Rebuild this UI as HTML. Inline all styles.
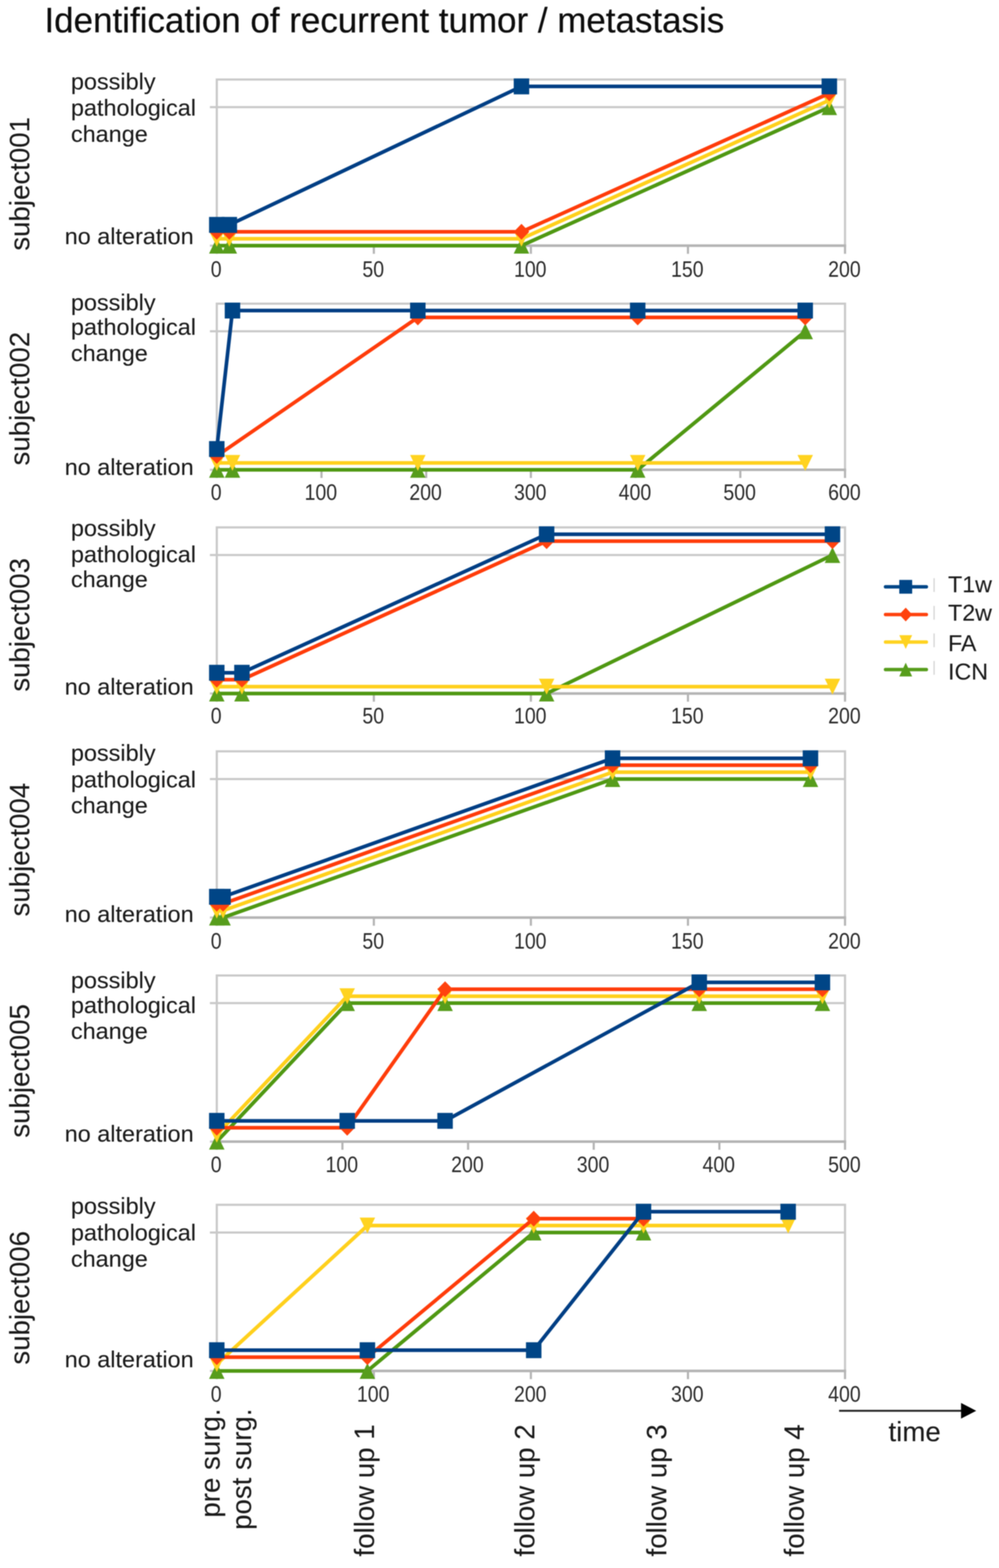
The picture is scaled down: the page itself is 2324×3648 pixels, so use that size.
<!DOCTYPE html>
<html><head><meta charset="utf-8"><title>Identification of recurrent tumor / metastasis</title>
<style>
html,body{margin:0;padding:0;background:#fff;}
svg{display:block;filter:blur(0.9px);}
text{font-family:'Liberation Sans',Arial,sans-serif;fill:#1a1a1a;stroke:#1a1a1a;stroke-width:0.2px;}
.tk{font-size:51px;text-anchor:middle;fill:#2b2b2b;stroke:none;}
.yl{font-size:54.5px;}
.rl{font-size:64.3px;}
.lg{font-size:54px;}
</style></head>
<body>
<svg width="2324" height="3648" viewBox="0 0 2324 3648">
<rect width="2324" height="3648" fill="#fff"/>
<text x="103.5" y="74.5" style="font-family:'Liberation Sans',Arial,sans-serif;font-size:81.3px;stroke-width:0.5px;fill:#0d0d0d;stroke:#0d0d0d">Identification of recurrent tumor / metastasis</text>
<line x1="488.3" y1="249.3" x2="1965.8" y2="249.3" stroke="#c9c9c9" stroke-width="5"/>
<line x1="488.3" y1="571.5" x2="504.3" y2="571.5" stroke="#c9c9c9" stroke-width="5"/>
<path d="M504.3,571.5 V184.9 H1965.8 V571.5" fill="none" stroke="#c9c9c9" stroke-width="5"/>
<line x1="501.8" y1="571.5" x2="1968.3" y2="571.5" stroke="#b4b4b4" stroke-width="6"/>
<line x1="504.3" y1="571.5" x2="504.3" y2="590.5" stroke="#b4b4b4" stroke-width="5"/>
<line x1="869.7" y1="571.5" x2="869.7" y2="590.5" stroke="#b4b4b4" stroke-width="5"/>
<line x1="1235" y1="571.5" x2="1235" y2="590.5" stroke="#b4b4b4" stroke-width="5"/>
<line x1="1600.4" y1="571.5" x2="1600.4" y2="590.5" stroke="#b4b4b4" stroke-width="5"/>
<line x1="1965.8" y1="571.5" x2="1965.8" y2="590.5" stroke="#b4b4b4" stroke-width="5"/>
<text transform="translate(502.8,643.6) scale(0.89,1)" class="tk">0</text>
<text transform="translate(868.2,643.6) scale(0.89,1)" class="tk">50</text>
<text transform="translate(1233.5,643.6) scale(0.89,1)" class="tk">100</text>
<text transform="translate(1598.9,643.6) scale(0.89,1)" class="tk">150</text>
<text transform="translate(1964.3,643.6) scale(0.89,1)" class="tk">200</text>
<polyline points="504.3,571.5 533.5,571.5 1213.1,571.5 1929.3,249.3" fill="none" stroke="#4f9812" stroke-width="8.5" stroke-linejoin="round"/>
<polygon points="486.3,590 522.3,590 504.3,553" fill="#579d1c"/>
<polygon points="515.5,590 551.5,590 533.5,553" fill="#579d1c"/>
<polygon points="1195.1,590 1231.1,590 1213.1,553" fill="#579d1c"/>
<polygon points="1911.3,267.8 1947.3,267.8 1929.3,230.8" fill="#579d1c"/>
<polyline points="504.3,555.4 533.5,555.4 1213.1,555.4 1929.3,233.2" fill="none" stroke="#ffd01c" stroke-width="8.5" stroke-linejoin="round"/>
<polygon points="486.3,536.9 522.3,536.9 504.3,573.9" fill="#ffd320"/>
<polygon points="515.5,536.9 551.5,536.9 533.5,573.9" fill="#ffd320"/>
<polygon points="1195.1,536.9 1231.1,536.9 1213.1,573.9" fill="#ffd320"/>
<polygon points="1911.3,214.7 1947.3,214.7 1929.3,251.7" fill="#ffd320"/>
<polyline points="504.3,539.3 533.5,539.3 1213.1,539.3 1929.3,217.1" fill="none" stroke="#ff3c0a" stroke-width="8.5" stroke-linejoin="round"/>
<polygon points="504.3,520.8 522.3,539.3 504.3,557.8 486.3,539.3" fill="#ff420e"/>
<polygon points="533.5,520.8 551.5,539.3 533.5,557.8 515.5,539.3" fill="#ff420e"/>
<polygon points="1213.1,520.8 1231.1,539.3 1213.1,557.8 1195.1,539.3" fill="#ff420e"/>
<polygon points="1929.3,198.6 1947.3,217.1 1929.3,235.6 1911.3,217.1" fill="#ff420e"/>
<polyline points="504.3,523.2 533.5,523.2 1213.1,201 1929.3,201" fill="none" stroke="#013e84" stroke-width="8.5" stroke-linejoin="round"/>
<rect x="486.3" y="504.7" width="36" height="37" fill="#004586"/>
<rect x="515.5" y="504.7" width="36" height="37" fill="#004586"/>
<rect x="1195.1" y="182.5" width="36" height="37" fill="#004586"/>
<rect x="1911.3" y="182.5" width="36" height="37" fill="#004586"/>
<text x="165" y="207.5" class="yl">possibly</text>
<text x="165" y="268.7" class="yl">pathological</text>
<text x="165" y="329.7" class="yl">change</text>
<text x="450.5" y="567.7" class="yl" text-anchor="end">no alteration</text>
<text transform="translate(68.4,427.8) rotate(-90)" class="rl" text-anchor="middle">subject001</text>
<line x1="488.3" y1="770.8" x2="1965.8" y2="770.8" stroke="#c9c9c9" stroke-width="5"/>
<line x1="488.3" y1="1093" x2="504.3" y2="1093" stroke="#c9c9c9" stroke-width="5"/>
<path d="M504.3,1093 V706.4 H1965.8 V1093" fill="none" stroke="#c9c9c9" stroke-width="5"/>
<line x1="501.8" y1="1093" x2="1968.3" y2="1093" stroke="#b4b4b4" stroke-width="6"/>
<line x1="504.3" y1="1093" x2="504.3" y2="1112" stroke="#b4b4b4" stroke-width="5"/>
<line x1="747.9" y1="1093" x2="747.9" y2="1112" stroke="#b4b4b4" stroke-width="5"/>
<line x1="991.5" y1="1093" x2="991.5" y2="1112" stroke="#b4b4b4" stroke-width="5"/>
<line x1="1235" y1="1093" x2="1235" y2="1112" stroke="#b4b4b4" stroke-width="5"/>
<line x1="1478.6" y1="1093" x2="1478.6" y2="1112" stroke="#b4b4b4" stroke-width="5"/>
<line x1="1722.2" y1="1093" x2="1722.2" y2="1112" stroke="#b4b4b4" stroke-width="5"/>
<line x1="1965.8" y1="1093" x2="1965.8" y2="1112" stroke="#b4b4b4" stroke-width="5"/>
<text transform="translate(502.8,1162.5) scale(0.89,1)" class="tk">0</text>
<text transform="translate(746.4,1162.5) scale(0.89,1)" class="tk">100</text>
<text transform="translate(990,1162.5) scale(0.89,1)" class="tk">200</text>
<text transform="translate(1233.5,1162.5) scale(0.89,1)" class="tk">300</text>
<text transform="translate(1477.1,1162.5) scale(0.89,1)" class="tk">400</text>
<text transform="translate(1720.7,1162.5) scale(0.89,1)" class="tk">500</text>
<text transform="translate(1964.3,1162.5) scale(0.89,1)" class="tk">600</text>
<polyline points="504.3,1093 540.8,1093 972,1093 1483.5,1093 1873.2,770.8" fill="none" stroke="#4f9812" stroke-width="8.5" stroke-linejoin="round"/>
<polygon points="486.3,1111.5 522.3,1111.5 504.3,1074.5" fill="#579d1c"/>
<polygon points="522.8,1111.5 558.8,1111.5 540.8,1074.5" fill="#579d1c"/>
<polygon points="954,1111.5 990,1111.5 972,1074.5" fill="#579d1c"/>
<polygon points="1465.5,1111.5 1501.5,1111.5 1483.5,1074.5" fill="#579d1c"/>
<polygon points="1855.2,789.3 1891.2,789.3 1873.2,752.3" fill="#579d1c"/>
<polyline points="504.3,1076.9 540.8,1076.9 972,1076.9 1483.5,1076.9 1873.2,1076.9" fill="none" stroke="#ffd01c" stroke-width="8.5" stroke-linejoin="round"/>
<polygon points="486.3,1058.4 522.3,1058.4 504.3,1095.4" fill="#ffd320"/>
<polygon points="522.8,1058.4 558.8,1058.4 540.8,1095.4" fill="#ffd320"/>
<polygon points="954,1058.4 990,1058.4 972,1095.4" fill="#ffd320"/>
<polygon points="1465.5,1058.4 1501.5,1058.4 1483.5,1095.4" fill="#ffd320"/>
<polygon points="1855.2,1058.4 1891.2,1058.4 1873.2,1095.4" fill="#ffd320"/>
<polyline points="504.3,1060.8 972,738.6 1483.5,738.6 1873.2,738.6" fill="none" stroke="#ff3c0a" stroke-width="8.5" stroke-linejoin="round"/>
<polygon points="504.3,1042.3 522.3,1060.8 504.3,1079.3 486.3,1060.8" fill="#ff420e"/>
<polygon points="972,720.1 990,738.6 972,757.1 954,738.6" fill="#ff420e"/>
<polygon points="1483.5,720.1 1501.5,738.6 1483.5,757.1 1465.5,738.6" fill="#ff420e"/>
<polygon points="1873.2,720.1 1891.2,738.6 1873.2,757.1 1855.2,738.6" fill="#ff420e"/>
<polyline points="504.3,1044.7 540.8,722.5 972,722.5 1483.5,722.5 1873.2,722.5" fill="none" stroke="#013e84" stroke-width="8.5" stroke-linejoin="round"/>
<rect x="486.3" y="1026.2" width="36" height="37" fill="#004586"/>
<rect x="522.8" y="704" width="36" height="37" fill="#004586"/>
<rect x="954" y="704" width="36" height="37" fill="#004586"/>
<rect x="1465.5" y="704" width="36" height="37" fill="#004586"/>
<rect x="1855.2" y="704" width="36" height="37" fill="#004586"/>
<text x="165" y="721.5" class="yl">possibly</text>
<text x="165" y="779.2" class="yl">pathological</text>
<text x="165" y="840.2" class="yl">change</text>
<text x="450.5" y="1104.8" class="yl" text-anchor="end">no alteration</text>
<text transform="translate(68.4,927.5) rotate(-90)" class="rl" text-anchor="middle">subject002</text>
<line x1="488.3" y1="1291.3" x2="1965.8" y2="1291.3" stroke="#c9c9c9" stroke-width="5"/>
<line x1="488.3" y1="1613.5" x2="504.3" y2="1613.5" stroke="#c9c9c9" stroke-width="5"/>
<path d="M504.3,1613.5 V1226.9 H1965.8 V1613.5" fill="none" stroke="#c9c9c9" stroke-width="5"/>
<line x1="501.8" y1="1613.5" x2="1968.3" y2="1613.5" stroke="#b4b4b4" stroke-width="6"/>
<line x1="504.3" y1="1613.5" x2="504.3" y2="1632.5" stroke="#b4b4b4" stroke-width="5"/>
<line x1="869.7" y1="1613.5" x2="869.7" y2="1632.5" stroke="#b4b4b4" stroke-width="5"/>
<line x1="1235" y1="1613.5" x2="1235" y2="1632.5" stroke="#b4b4b4" stroke-width="5"/>
<line x1="1600.4" y1="1613.5" x2="1600.4" y2="1632.5" stroke="#b4b4b4" stroke-width="5"/>
<line x1="1965.8" y1="1613.5" x2="1965.8" y2="1632.5" stroke="#b4b4b4" stroke-width="5"/>
<text transform="translate(502.8,1683) scale(0.89,1)" class="tk">0</text>
<text transform="translate(868.2,1683) scale(0.89,1)" class="tk">50</text>
<text transform="translate(1233.5,1683) scale(0.89,1)" class="tk">100</text>
<text transform="translate(1598.9,1683) scale(0.89,1)" class="tk">150</text>
<text transform="translate(1964.3,1683) scale(0.89,1)" class="tk">200</text>
<polyline points="504.3,1613.5 562.8,1613.5 1271.6,1613.5 1936.6,1291.3" fill="none" stroke="#4f9812" stroke-width="8.5" stroke-linejoin="round"/>
<polygon points="486.3,1632 522.3,1632 504.3,1595" fill="#579d1c"/>
<polygon points="544.8,1632 580.8,1632 562.8,1595" fill="#579d1c"/>
<polygon points="1253.6,1632 1289.6,1632 1271.6,1595" fill="#579d1c"/>
<polygon points="1918.6,1309.8 1954.6,1309.8 1936.6,1272.8" fill="#579d1c"/>
<polyline points="504.3,1597.4 562.8,1597.4 1271.6,1597.4 1936.6,1597.4" fill="none" stroke="#ffd01c" stroke-width="8.5" stroke-linejoin="round"/>
<polygon points="486.3,1578.9 522.3,1578.9 504.3,1615.9" fill="#ffd320"/>
<polygon points="544.8,1578.9 580.8,1578.9 562.8,1615.9" fill="#ffd320"/>
<polygon points="1253.6,1578.9 1289.6,1578.9 1271.6,1615.9" fill="#ffd320"/>
<polygon points="1918.6,1578.9 1954.6,1578.9 1936.6,1615.9" fill="#ffd320"/>
<polyline points="504.3,1581.3 562.8,1581.3 1271.6,1259.1 1936.6,1259.1" fill="none" stroke="#ff3c0a" stroke-width="8.5" stroke-linejoin="round"/>
<polygon points="504.3,1562.8 522.3,1581.3 504.3,1599.8 486.3,1581.3" fill="#ff420e"/>
<polygon points="562.8,1562.8 580.8,1581.3 562.8,1599.8 544.8,1581.3" fill="#ff420e"/>
<polygon points="1271.6,1240.6 1289.6,1259.1 1271.6,1277.6 1253.6,1259.1" fill="#ff420e"/>
<polygon points="1936.6,1240.6 1954.6,1259.1 1936.6,1277.6 1918.6,1259.1" fill="#ff420e"/>
<polyline points="504.3,1565.2 562.8,1565.2 1271.6,1243 1936.6,1243" fill="none" stroke="#013e84" stroke-width="8.5" stroke-linejoin="round"/>
<rect x="486.3" y="1546.7" width="36" height="37" fill="#004586"/>
<rect x="544.8" y="1546.7" width="36" height="37" fill="#004586"/>
<rect x="1253.6" y="1224.5" width="36" height="37" fill="#004586"/>
<rect x="1918.6" y="1224.5" width="36" height="37" fill="#004586"/>
<text x="165" y="1246.8" class="yl">possibly</text>
<text x="165" y="1307.8" class="yl">pathological</text>
<text x="165" y="1366" class="yl">change</text>
<text x="450.5" y="1616.3" class="yl" text-anchor="end">no alteration</text>
<text transform="translate(68.4,1453.8) rotate(-90)" class="rl" text-anchor="middle">subject003</text>
<line x1="488.3" y1="1812.5" x2="1965.8" y2="1812.5" stroke="#c9c9c9" stroke-width="5"/>
<line x1="488.3" y1="2134.7" x2="504.3" y2="2134.7" stroke="#c9c9c9" stroke-width="5"/>
<path d="M504.3,2134.7 V1748.1 H1965.8 V2134.7" fill="none" stroke="#c9c9c9" stroke-width="5"/>
<line x1="501.8" y1="2134.7" x2="1968.3" y2="2134.7" stroke="#b4b4b4" stroke-width="6"/>
<line x1="504.3" y1="2134.7" x2="504.3" y2="2153.7" stroke="#b4b4b4" stroke-width="5"/>
<line x1="869.7" y1="2134.7" x2="869.7" y2="2153.7" stroke="#b4b4b4" stroke-width="5"/>
<line x1="1235" y1="2134.7" x2="1235" y2="2153.7" stroke="#b4b4b4" stroke-width="5"/>
<line x1="1600.4" y1="2134.7" x2="1600.4" y2="2153.7" stroke="#b4b4b4" stroke-width="5"/>
<line x1="1965.8" y1="2134.7" x2="1965.8" y2="2153.7" stroke="#b4b4b4" stroke-width="5"/>
<text transform="translate(502.8,2206.7) scale(0.89,1)" class="tk">0</text>
<text transform="translate(868.2,2206.7) scale(0.89,1)" class="tk">50</text>
<text transform="translate(1233.5,2206.7) scale(0.89,1)" class="tk">100</text>
<text transform="translate(1598.9,2206.7) scale(0.89,1)" class="tk">150</text>
<text transform="translate(1964.3,2206.7) scale(0.89,1)" class="tk">200</text>
<polyline points="504.3,2134.7 518.9,2134.7 1425,1812.5 1885.4,1812.5" fill="none" stroke="#4f9812" stroke-width="8.5" stroke-linejoin="round"/>
<polygon points="486.3,2153.2 522.3,2153.2 504.3,2116.2" fill="#579d1c"/>
<polygon points="500.9,2153.2 536.9,2153.2 518.9,2116.2" fill="#579d1c"/>
<polygon points="1407,1831 1443,1831 1425,1794" fill="#579d1c"/>
<polygon points="1867.4,1831 1903.4,1831 1885.4,1794" fill="#579d1c"/>
<polyline points="504.3,2118.6 518.9,2118.6 1425,1796.4 1885.4,1796.4" fill="none" stroke="#ffd01c" stroke-width="8.5" stroke-linejoin="round"/>
<polygon points="486.3,2100.1 522.3,2100.1 504.3,2137.1" fill="#ffd320"/>
<polygon points="500.9,2100.1 536.9,2100.1 518.9,2137.1" fill="#ffd320"/>
<polygon points="1407,1777.9 1443,1777.9 1425,1814.9" fill="#ffd320"/>
<polygon points="1867.4,1777.9 1903.4,1777.9 1885.4,1814.9" fill="#ffd320"/>
<polyline points="504.3,2102.5 518.9,2102.5 1425,1780.3 1885.4,1780.3" fill="none" stroke="#ff3c0a" stroke-width="8.5" stroke-linejoin="round"/>
<polygon points="504.3,2084 522.3,2102.5 504.3,2121 486.3,2102.5" fill="#ff420e"/>
<polygon points="518.9,2084 536.9,2102.5 518.9,2121 500.9,2102.5" fill="#ff420e"/>
<polygon points="1425,1761.8 1443,1780.3 1425,1798.8 1407,1780.3" fill="#ff420e"/>
<polygon points="1885.4,1761.8 1903.4,1780.3 1885.4,1798.8 1867.4,1780.3" fill="#ff420e"/>
<polyline points="504.3,2086.4 518.9,2086.4 1425,1764.2 1885.4,1764.2" fill="none" stroke="#013e84" stroke-width="8.5" stroke-linejoin="round"/>
<rect x="486.3" y="2067.9" width="36" height="37" fill="#004586"/>
<rect x="500.9" y="2067.9" width="36" height="37" fill="#004586"/>
<rect x="1407" y="1745.7" width="36" height="37" fill="#004586"/>
<rect x="1867.4" y="1745.7" width="36" height="37" fill="#004586"/>
<text x="165" y="1770.3" class="yl">possibly</text>
<text x="165" y="1831.7" class="yl">pathological</text>
<text x="165" y="1892.4" class="yl">change</text>
<text x="450.5" y="2145" class="yl" text-anchor="end">no alteration</text>
<text transform="translate(68.4,1976.7) rotate(-90)" class="rl" text-anchor="middle">subject004</text>
<line x1="488.3" y1="2333.8" x2="1965.8" y2="2333.8" stroke="#c9c9c9" stroke-width="5"/>
<line x1="488.3" y1="2656" x2="504.3" y2="2656" stroke="#c9c9c9" stroke-width="5"/>
<path d="M504.3,2656 V2269.4 H1965.8 V2656" fill="none" stroke="#c9c9c9" stroke-width="5"/>
<line x1="501.8" y1="2656" x2="1968.3" y2="2656" stroke="#b4b4b4" stroke-width="6"/>
<line x1="504.3" y1="2656" x2="504.3" y2="2675" stroke="#b4b4b4" stroke-width="5"/>
<line x1="796.6" y1="2656" x2="796.6" y2="2675" stroke="#b4b4b4" stroke-width="5"/>
<line x1="1088.9" y1="2656" x2="1088.9" y2="2675" stroke="#b4b4b4" stroke-width="5"/>
<line x1="1381.2" y1="2656" x2="1381.2" y2="2675" stroke="#b4b4b4" stroke-width="5"/>
<line x1="1673.5" y1="2656" x2="1673.5" y2="2675" stroke="#b4b4b4" stroke-width="5"/>
<line x1="1965.8" y1="2656" x2="1965.8" y2="2675" stroke="#b4b4b4" stroke-width="5"/>
<text transform="translate(502.8,2727.2) scale(0.89,1)" class="tk">0</text>
<text transform="translate(795.1,2727.2) scale(0.89,1)" class="tk">100</text>
<text transform="translate(1087.4,2727.2) scale(0.89,1)" class="tk">200</text>
<text transform="translate(1379.7,2727.2) scale(0.89,1)" class="tk">300</text>
<text transform="translate(1672,2727.2) scale(0.89,1)" class="tk">400</text>
<text transform="translate(1964.3,2727.2) scale(0.89,1)" class="tk">500</text>
<polyline points="504.3,2656 807.7,2333.8 1035.4,2333.8 1626.7,2333.8 1913.2,2333.8" fill="none" stroke="#4f9812" stroke-width="8.5" stroke-linejoin="round"/>
<polygon points="486.3,2674.5 522.3,2674.5 504.3,2637.5" fill="#579d1c"/>
<polygon points="789.7,2352.3 825.7,2352.3 807.7,2315.3" fill="#579d1c"/>
<polygon points="1017.4,2352.3 1053.4,2352.3 1035.4,2315.3" fill="#579d1c"/>
<polygon points="1608.7,2352.3 1644.7,2352.3 1626.7,2315.3" fill="#579d1c"/>
<polygon points="1895.2,2352.3 1931.2,2352.3 1913.2,2315.3" fill="#579d1c"/>
<polyline points="504.3,2639.9 807.7,2317.7 1035.4,2317.7 1626.7,2317.7 1913.2,2317.7" fill="none" stroke="#ffd01c" stroke-width="8.5" stroke-linejoin="round"/>
<polygon points="486.3,2621.4 522.3,2621.4 504.3,2658.4" fill="#ffd320"/>
<polygon points="789.7,2299.2 825.7,2299.2 807.7,2336.2" fill="#ffd320"/>
<polygon points="1017.4,2299.2 1053.4,2299.2 1035.4,2336.2" fill="#ffd320"/>
<polygon points="1608.7,2299.2 1644.7,2299.2 1626.7,2336.2" fill="#ffd320"/>
<polygon points="1895.2,2299.2 1931.2,2299.2 1913.2,2336.2" fill="#ffd320"/>
<polyline points="504.3,2623.8 807.7,2623.8 1035.4,2301.6 1626.7,2301.6 1913.2,2301.6" fill="none" stroke="#ff3c0a" stroke-width="8.5" stroke-linejoin="round"/>
<polygon points="504.3,2605.3 522.3,2623.8 504.3,2642.3 486.3,2623.8" fill="#ff420e"/>
<polygon points="807.7,2605.3 825.7,2623.8 807.7,2642.3 789.7,2623.8" fill="#ff420e"/>
<polygon points="1035.4,2283.1 1053.4,2301.6 1035.4,2320.1 1017.4,2301.6" fill="#ff420e"/>
<polygon points="1626.7,2283.1 1644.7,2301.6 1626.7,2320.1 1608.7,2301.6" fill="#ff420e"/>
<polygon points="1913.2,2283.1 1931.2,2301.6 1913.2,2320.1 1895.2,2301.6" fill="#ff420e"/>
<polyline points="504.3,2607.7 807.7,2607.7 1035.4,2607.7 1626.7,2285.5 1913.2,2285.5" fill="none" stroke="#013e84" stroke-width="8.5" stroke-linejoin="round"/>
<rect x="486.3" y="2589.2" width="36" height="37" fill="#004586"/>
<rect x="789.7" y="2589.2" width="36" height="37" fill="#004586"/>
<rect x="1017.4" y="2589.2" width="36" height="37" fill="#004586"/>
<rect x="1608.7" y="2267" width="36" height="37" fill="#004586"/>
<rect x="1895.2" y="2267" width="36" height="37" fill="#004586"/>
<text x="165" y="2298.8" class="yl">possibly</text>
<text x="165" y="2356.7" class="yl">pathological</text>
<text x="165" y="2417.4" class="yl">change</text>
<text x="450.5" y="2656.3" class="yl" text-anchor="end">no alteration</text>
<text transform="translate(68.4,2491.5) rotate(-90)" class="rl" text-anchor="middle">subject005</text>
<line x1="488.3" y1="2867.4" x2="1965.8" y2="2867.4" stroke="#c9c9c9" stroke-width="5"/>
<line x1="488.3" y1="3189.6" x2="504.3" y2="3189.6" stroke="#c9c9c9" stroke-width="5"/>
<path d="M504.3,3189.6 V2803 H1965.8 V3189.6" fill="none" stroke="#c9c9c9" stroke-width="5"/>
<line x1="501.8" y1="3189.6" x2="1968.3" y2="3189.6" stroke="#b4b4b4" stroke-width="6"/>
<line x1="504.3" y1="3189.6" x2="504.3" y2="3208.6" stroke="#b4b4b4" stroke-width="5"/>
<line x1="869.7" y1="3189.6" x2="869.7" y2="3208.6" stroke="#b4b4b4" stroke-width="5"/>
<line x1="1235" y1="3189.6" x2="1235" y2="3208.6" stroke="#b4b4b4" stroke-width="5"/>
<line x1="1600.4" y1="3189.6" x2="1600.4" y2="3208.6" stroke="#b4b4b4" stroke-width="5"/>
<line x1="1965.8" y1="3189.6" x2="1965.8" y2="3208.6" stroke="#b4b4b4" stroke-width="5"/>
<text transform="translate(502.8,3260.6) scale(0.89,1)" class="tk">0</text>
<text transform="translate(868.2,3260.6) scale(0.89,1)" class="tk">100</text>
<text transform="translate(1233.5,3260.6) scale(0.89,1)" class="tk">200</text>
<text transform="translate(1598.9,3260.6) scale(0.89,1)" class="tk">300</text>
<text transform="translate(1964.3,3260.6) scale(0.89,1)" class="tk">400</text>
<polyline points="504.3,3189.6 854.7,3189.6 1241.6,2867.4 1497,2867.4" fill="none" stroke="#4f9812" stroke-width="8.5" stroke-linejoin="round"/>
<polygon points="486.3,3208.1 522.3,3208.1 504.3,3171.1" fill="#579d1c"/>
<polygon points="836.7,3208.1 872.7,3208.1 854.7,3171.1" fill="#579d1c"/>
<polygon points="1223.6,2885.9 1259.6,2885.9 1241.6,2848.9" fill="#579d1c"/>
<polygon points="1479,2885.9 1515,2885.9 1497,2848.9" fill="#579d1c"/>
<polyline points="504.3,3173.5 854.7,2851.3 1241.6,2851.3 1497,2851.3 1833.5,2851.3" fill="none" stroke="#ffd01c" stroke-width="8.5" stroke-linejoin="round"/>
<polygon points="486.3,3155 522.3,3155 504.3,3192" fill="#ffd320"/>
<polygon points="836.7,2832.8 872.7,2832.8 854.7,2869.8" fill="#ffd320"/>
<polygon points="1223.6,2832.8 1259.6,2832.8 1241.6,2869.8" fill="#ffd320"/>
<polygon points="1479,2832.8 1515,2832.8 1497,2869.8" fill="#ffd320"/>
<polygon points="1815.5,2832.8 1851.5,2832.8 1833.5,2869.8" fill="#ffd320"/>
<polyline points="504.3,3157.4 854.7,3157.4 1241.6,2835.2 1497,2835.2" fill="none" stroke="#ff3c0a" stroke-width="8.5" stroke-linejoin="round"/>
<polygon points="504.3,3138.9 522.3,3157.4 504.3,3175.9 486.3,3157.4" fill="#ff420e"/>
<polygon points="854.7,3138.9 872.7,3157.4 854.7,3175.9 836.7,3157.4" fill="#ff420e"/>
<polygon points="1241.6,2816.7 1259.6,2835.2 1241.6,2853.7 1223.6,2835.2" fill="#ff420e"/>
<polygon points="1497,2816.7 1515,2835.2 1497,2853.7 1479,2835.2" fill="#ff420e"/>
<polyline points="504.3,3141.3 854.7,3141.3 1241.6,3141.3 1497,2819.1 1833.5,2819.1" fill="none" stroke="#013e84" stroke-width="8.5" stroke-linejoin="round"/>
<rect x="486.3" y="3122.8" width="36" height="37" fill="#004586"/>
<rect x="836.7" y="3122.8" width="36" height="37" fill="#004586"/>
<rect x="1223.6" y="3122.8" width="36" height="37" fill="#004586"/>
<rect x="1479" y="2800.6" width="36" height="37" fill="#004586"/>
<rect x="1815.5" y="2800.6" width="36" height="37" fill="#004586"/>
<text x="165" y="2823.8" class="yl">possibly</text>
<text x="165" y="2885.6" class="yl">pathological</text>
<text x="165" y="2947.3" class="yl">change</text>
<text x="450.5" y="3181.3" class="yl" text-anchor="end">no alteration</text>
<text transform="translate(68.4,3019.5) rotate(-90)" class="rl" text-anchor="middle">subject006</text>
<line x1="2060" y1="1365.2" x2="2155" y2="1365.2" stroke="#004586" stroke-width="8" stroke-linecap="round"/>
<rect x="2092" y="1349.2" width="30" height="32" fill="#004586"/>
<line x1="2173" y1="1345.2" x2="2173" y2="1377.2" stroke="#d4d4d4" stroke-width="3"/>
<text x="2205.5" y="1378.2" class="lg">T1w</text>
<line x1="2060" y1="1429.7" x2="2155" y2="1429.7" stroke="#ff420e" stroke-width="8" stroke-linecap="round"/>
<polygon points="2107,1413.7 2122,1429.7 2107,1445.7 2092,1429.7" fill="#ff420e"/>
<line x1="2173" y1="1409.7" x2="2173" y2="1441.7" stroke="#d4d4d4" stroke-width="3"/>
<text x="2205.5" y="1444" class="lg">T2w</text>
<line x1="2060" y1="1493.7" x2="2155" y2="1493.7" stroke="#ffd320" stroke-width="8" stroke-linecap="round"/>
<polygon points="2092,1477.7 2122,1477.7 2107,1509.7" fill="#ffd320"/>
<line x1="2173" y1="1473.7" x2="2173" y2="1505.7" stroke="#d4d4d4" stroke-width="3"/>
<text x="2205.5" y="1514.9" class="lg">FA</text>
<line x1="2060" y1="1557.8" x2="2155" y2="1557.8" stroke="#579d1c" stroke-width="8" stroke-linecap="round"/>
<polygon points="2092,1573.8 2122,1573.8 2107,1541.8" fill="#579d1c"/>
<line x1="2173" y1="1537.8" x2="2173" y2="1569.8" stroke="#d4d4d4" stroke-width="3"/>
<text x="2205.5" y="1581.1" class="lg">ICN</text>
<text transform="translate(510.5,3277) rotate(-90)" class="rl" text-anchor="end">pre surg.</text>
<text transform="translate(584,3277) rotate(-90)" class="rl" text-anchor="end">post surg.</text>
<text transform="translate(870.2,3313.8) rotate(-90)" class="rl" text-anchor="end">follow up 1</text>
<text transform="translate(1243,3313.8) rotate(-90)" class="rl" text-anchor="end">follow up 2</text>
<text transform="translate(1550.3,3313.8) rotate(-90)" class="rl" text-anchor="end">follow up 3</text>
<text transform="translate(1870.4,3313.8) rotate(-90)" class="rl" text-anchor="end">follow up 4</text>
<line x1="1952" y1="3282.3" x2="2240" y2="3282.3" stroke="#262626" stroke-width="4.5"/>
<polygon points="2235.7,3264 2271,3282.3 2235.7,3300.5" fill="#000"/>
<text x="2067" y="3352.5" class="rl">time</text>
</svg>
</body></html>
